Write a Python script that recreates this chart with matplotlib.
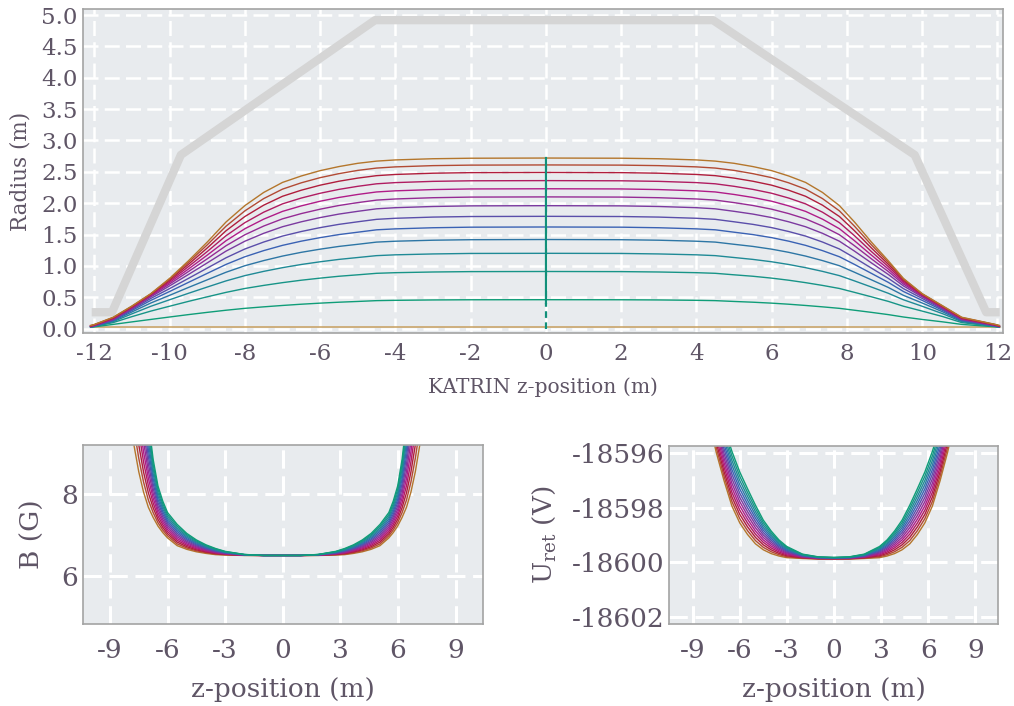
import matplotlib.pyplot as plt
from matplotlib.colors import LinearSegmentedColormap

# ---- data ---------------------------------------------------------------
# |z| knots (m) on the upstream (negative z) and downstream (positive z) side
z_up = [0.0, 2.0, 3.0, 4.0, 4.5, 5.0, 5.5, 6.0, 6.5, 7.0, 7.5, 8.0, 8.5, 9.0, 9.5, 10.0, 10.5, 11.0, 11.5, 12.0, 12.1]
z_down = [0.0, 2.0, 3.0, 4.0, 4.5, 5.0, 5.5, 6.0, 6.45, 6.9, 7.35, 7.8, 8.2, 8.65, 9.1, 9.5, 10.0, 10.55, 11.05, 11.95, 12.05]

# field line radius (m) at each knot, 13 flux lines from inner to outer
radius_rows = [
    [0.460, 0.910, 1.200, 1.420, 1.620, 1.790, 1.960, 2.100, 2.230, 2.360, 2.490, 2.610, 2.720],
    [0.459, 0.908, 1.198, 1.417, 1.617, 1.787, 1.957, 2.097, 2.227, 2.357, 2.487, 2.607, 2.717],
    [0.456, 0.902, 1.190, 1.409, 1.608, 1.778, 1.947, 2.087, 2.217, 2.348, 2.478, 2.599, 2.709],
    [0.450, 0.891, 1.176, 1.393, 1.590, 1.759, 1.928, 2.067, 2.197, 2.328, 2.458, 2.579, 2.690],
    [0.445, 0.881, 1.163, 1.379, 1.575, 1.742, 1.910, 2.049, 2.179, 2.309, 2.439, 2.560, 2.671],
    [0.432, 0.857, 1.133, 1.344, 1.537, 1.703, 1.870, 2.009, 2.139, 2.269, 2.400, 2.523, 2.636],
    [0.420, 0.834, 1.103, 1.310, 1.499, 1.662, 1.826, 1.963, 2.091, 2.220, 2.350, 2.471, 2.584],
    [0.405, 0.804, 1.065, 1.266, 1.450, 1.610, 1.770, 1.904, 2.031, 2.158, 2.287, 2.407, 2.519],
    [0.388, 0.771, 1.022, 1.216, 1.394, 1.548, 1.703, 1.834, 1.957, 2.082, 2.207, 2.325, 2.434],
    [0.368, 0.732, 0.971, 1.156, 1.327, 1.475, 1.624, 1.750, 1.869, 1.989, 2.110, 2.224, 2.331],
    [0.346, 0.688, 0.912, 1.084, 1.243, 1.380, 1.519, 1.635, 1.745, 1.856, 1.968, 2.073, 2.171],
    [0.322, 0.639, 0.844, 1.002, 1.145, 1.269, 1.393, 1.496, 1.592, 1.689, 1.787, 1.877, 1.961],
    [0.292, 0.577, 0.760, 0.898, 1.023, 1.129, 1.235, 1.321, 1.401, 1.481, 1.560, 1.633, 1.700],
    [0.258, 0.506, 0.662, 0.777, 0.880, 0.964, 1.047, 1.112, 1.171, 1.228, 1.285, 1.335, 1.379],
    [0.222, 0.433, 0.562, 0.655, 0.736, 0.800, 0.862, 0.909, 0.949, 0.988, 1.024, 1.055, 1.080],
    [0.184, 0.356, 0.459, 0.530, 0.591, 0.637, 0.680, 0.710, 0.734, 0.756, 0.776, 0.790, 0.800],
    [0.145, 0.278, 0.355, 0.407, 0.449, 0.480, 0.505, 0.520, 0.531, 0.540, 0.547, 0.552, 0.556],
    [0.106, 0.190, 0.235, 0.265, 0.288, 0.305, 0.318, 0.328, 0.336, 0.343, 0.349, 0.355, 0.360],
    [0.066, 0.095, 0.110, 0.121, 0.130, 0.138, 0.145, 0.151, 0.157, 0.163, 0.169, 0.175, 0.180],
    [0.027, 0.032, 0.035, 0.038, 0.041, 0.044, 0.047, 0.050, 0.053, 0.056, 0.059, 0.062, 0.065],
    [0.020, 0.022, 0.024, 0.026, 0.028, 0.030, 0.032, 0.034, 0.036, 0.038, 0.040, 0.045, 0.050],
]

# central beam axis line and analysis plane marker
axis_z = [-12.07, 12.06]
axis_r = [0.02, 0.02]
plane_r = [0.0, 0.40, 2.72]

# vessel wall outline
wall_z = [-12.07, -11.53, -9.70, -4.54, 4.44, 9.80, 11.70, 12.06]
wall_r = [0.26, 0.26, 2.77, 4.92, 4.92, 2.77, 0.26, 0.26]

# magnetic field along each line (G)
zb_up = [0.0, 1.0, 2.0, 3.0, 3.5, 4.0, 4.5, 5.0, 5.5, 6.0, 6.25, 6.5, 6.75, 7.0, 7.25, 7.5, 7.75, 8.0]
zb_down = [0.0, 0.92, 1.84, 2.76, 3.22, 3.68, 4.14, 4.6, 5.06, 5.52, 5.75, 5.98, 6.21, 6.44, 6.67, 6.9, 7.13, 7.36]
b_rows = [
    [6.500] * 13,
    [6.500] * 13,
    [6.525, 6.523, 6.521, 6.519, 6.517, 6.515, 6.513, 6.510, 6.508, 6.506, 6.504, 6.502, 6.500],
    [6.600, 6.593, 6.585, 6.578, 6.570, 6.563, 6.555, 6.548, 6.540, 6.533, 6.525, 6.518, 6.510],
    [6.670, 6.658, 6.645, 6.633, 6.620, 6.608, 6.595, 6.583, 6.570, 6.558, 6.545, 6.533, 6.520],
    [6.760, 6.743, 6.725, 6.708, 6.690, 6.673, 6.655, 6.638, 6.620, 6.603, 6.585, 6.568, 6.550],
    [6.880, 6.856, 6.832, 6.808, 6.783, 6.759, 6.735, 6.711, 6.687, 6.663, 6.638, 6.614, 6.590],
    [7.040, 7.008, 6.975, 6.943, 6.910, 6.878, 6.845, 6.813, 6.780, 6.748, 6.715, 6.683, 6.650],
    [7.260, 7.217, 7.173, 7.130, 7.087, 7.043, 7.000, 6.957, 6.913, 6.870, 6.827, 6.783, 6.740],
    [7.550, 7.498, 7.447, 7.395, 7.343, 7.292, 7.240, 7.188, 7.137, 7.085, 7.033, 6.982, 6.930],
    [7.830, 7.766, 7.702, 7.638, 7.573, 7.509, 7.445, 7.381, 7.317, 7.253, 7.188, 7.124, 7.060],
    [8.200, 8.118, 8.037, 7.955, 7.873, 7.792, 7.710, 7.628, 7.547, 7.465, 7.383, 7.302, 7.220],
    [8.850, 8.732, 8.613, 8.495, 8.377, 8.258, 8.140, 8.022, 7.903, 7.785, 7.667, 7.548, 7.430],
    [9.800, 9.623, 9.447, 9.270, 9.093, 8.917, 8.740, 8.563, 8.387, 8.210, 8.033, 7.857, 7.680],
    [11.000, 10.754, 10.508, 10.263, 10.017, 9.771, 9.525, 9.279, 9.033, 8.788, 8.542, 8.296, 8.050],
    [12.500, 12.171, 11.842, 11.513, 11.183, 10.854, 10.525, 10.196, 9.867, 9.538, 9.208, 8.879, 8.550],
    [14.100, 13.692, 13.283, 12.875, 12.467, 12.058, 11.650, 11.242, 10.833, 10.425, 10.017, 9.608, 9.200],
    [16.000, 15.508, 15.017, 14.525, 14.033, 13.542, 13.050, 12.558, 12.067, 11.575, 11.083, 10.592, 10.100],
]

# retarding potential along each line, as rise above -18600 V
u_floor = -18600.0
zu_up = [0.0, 1.0, 2.0, 3.0, 3.5, 4.0, 4.5, 5.0, 5.5, 6.0, 6.5, 7.0, 7.5, 8.0]
zu_down = [0.0, 0.97, 1.93, 2.9, 3.38, 3.86, 4.34, 4.83, 5.31, 5.79, 6.27, 6.76, 7.24, 7.72]
u_rise_rows = [
    [0.180, 0.175, 0.170, 0.165, 0.160, 0.155, 0.150, 0.145, 0.140, 0.135, 0.130, 0.125, 0.120],
    [0.200, 0.193, 0.187, 0.180, 0.173, 0.167, 0.160, 0.153, 0.147, 0.140, 0.133, 0.127, 0.120],
    [0.300, 0.287, 0.273, 0.260, 0.247, 0.233, 0.220, 0.207, 0.193, 0.180, 0.167, 0.153, 0.140],
    [0.580, 0.546, 0.512, 0.478, 0.443, 0.409, 0.375, 0.341, 0.307, 0.273, 0.238, 0.204, 0.170],
    [0.820, 0.771, 0.722, 0.673, 0.623, 0.574, 0.525, 0.476, 0.427, 0.378, 0.328, 0.279, 0.230],
    [1.150, 1.081, 1.012, 0.943, 0.873, 0.804, 0.735, 0.666, 0.597, 0.528, 0.458, 0.389, 0.320],
    [1.550, 1.459, 1.368, 1.278, 1.187, 1.096, 1.005, 0.914, 0.823, 0.733, 0.642, 0.551, 0.460],
    [2.100, 1.982, 1.863, 1.745, 1.627, 1.508, 1.390, 1.272, 1.153, 1.035, 0.917, 0.798, 0.680],
    [2.700, 2.560, 2.420, 2.280, 2.140, 2.000, 1.860, 1.720, 1.580, 1.440, 1.300, 1.160, 1.020],
    [3.320, 3.164, 3.008, 2.853, 2.697, 2.541, 2.385, 2.229, 2.073, 1.918, 1.762, 1.606, 1.450],
    [4.080, 3.913, 3.745, 3.578, 3.410, 3.243, 3.075, 2.908, 2.740, 2.573, 2.405, 2.238, 2.070],
    [5.000, 4.833, 4.667, 4.500, 4.333, 4.167, 4.000, 3.833, 3.667, 3.500, 3.333, 3.167, 3.000],
    [6.200, 6.021, 5.842, 5.663, 5.483, 5.304, 5.125, 4.946, 4.767, 4.588, 4.408, 4.229, 4.050],
    [7.700, 7.500, 7.300, 7.100, 6.900, 6.700, 6.500, 6.300, 6.100, 5.900, 5.700, 5.500, 5.300],
]

n_lines = 13
line_colors = ['#0f9d78', '#1f8a96', '#3a62b4', '#7a3aa0', '#b01c88', '#b01c3c', '#b4762c']

TEXT = '#5f5566'
BG = '#e8ebee'

plt.rcParams['font.family'] = ['DejaVu Serif Condensed', 'DejaVu Serif']
plt.rcParams['mathtext.fontset'] = 'dejavuserif'
plt.rcParams['axes.unicode_minus'] = False

cmap = LinearSegmentedColormap.from_list('flux', line_colors)
colors = [cmap(k / (n_lines - 1)) for k in range(n_lines)]


def profile(zu, zd, rows, k):
    z = [-v for v in zu[::-1]] + list(zd[1:])
    y = [r[k] for r in rows[::-1]] + [r[k] for r in rows[1:]]
    return z, y


def style(ax, fs, lw):
    ax.set_facecolor(BG)
    ax.grid(True, color='white', lw=lw, linestyle=(0, (6, 2.5)))
    ax.set_axisbelow(True)
    for s in ax.spines.values():
        s.set_color('#a3a3a3')
        s.set_linewidth(1.2)
    ax.tick_params(length=0, labelsize=fs, colors=TEXT)


fig = plt.figure(figsize=(10.14, 7.06), dpi=100)

# ---- top: flux tube radius ------------------------------------------------
ax = fig.add_axes([0.0819, 0.528, 0.907, 0.459])
style(ax, 16.5, 1.8)
ax.plot(wall_z, wall_r, color='#d5d5d5', lw=6.0, solid_capstyle='butt', zorder=2)
ax.plot(axis_z, axis_r, color='#c9a56a', lw=1.2, zorder=3)
for k in range(n_lines):
    z, r = profile(z_up, z_down, radius_rows, k)
    ax.plot(z, r, color=colors[k], lw=1.0, zorder=3)
ax.plot([0, 0], plane_r[1:], color='#11907a', lw=1.6, zorder=4)
ax.plot([0, 0], plane_r[:2], color='#11907a', lw=1.6, ls=(0, (3, 2)), zorder=4)
ax.set_xlim(-12.3, 12.14)
ax.set_ylim(-0.075, 5.095)
ax.set_xticks(range(-12, 13, 2))
ax.set_yticks([i * 0.5 for i in range(11)])
ax.yaxis.set_major_formatter(plt.FormatStrFormatter('%.1f'))
ax.tick_params(axis='x', pad=7)
ax.tick_params(axis='y', pad=4)
ax.set_xlabel('KATRIN z-position (m)', fontsize=14.6, color=TEXT, labelpad=9)
ax.set_ylabel('Radius (m)', fontsize=15.5, color=TEXT, labelpad=7)

# ---- bottom left: magnetic field -------------------------------------------
axb = fig.add_axes([0.0819, 0.116, 0.394, 0.2535])
style(axb, 19, 2.2)
for k in reversed(range(n_lines)):
    z, b = profile(zb_up, zb_down, b_rows, k)
    axb.plot(z, b, color=colors[k], lw=1.0)
axb.set_xlim(-10.4, 10.4)
axb.set_ylim(4.82, 9.2)
axb.set_xticks(range(-9, 10, 3))
axb.set_yticks([6, 8])
axb.tick_params(axis='x', pad=10)
axb.set_xlabel('z-position (m)', fontsize=19, color=TEXT, labelpad=10)
axb.set_ylabel('B (G)', fontsize=19, color=TEXT, labelpad=12)

# ---- bottom right: retarding potential -------------------------------------
axu = fig.add_axes([0.6598, 0.116, 0.3245, 0.2526])
style(axu, 19, 2.2)
for k in reversed(range(n_lines)):
    z, du = profile(zu_up, zu_down, u_rise_rows, k)
    axu.plot(z, [u_floor + d for d in du], color=colors[k], lw=1.0)
axu.set_xlim(-10.5, 10.45)
axu.set_ylim(-18602.27, -18595.72)
axu.set_xticks(range(-9, 10, 3))
axu.set_yticks([-18596, -18598, -18600, -18602])
axu.yaxis.set_major_formatter(plt.FormatStrFormatter('%d'))
axu.tick_params(axis='x', pad=10)
axu.set_xlabel('z-position (m)', fontsize=19, color=TEXT, labelpad=10)
axu.set_ylabel(r'U$_\mathregular{ret}$ (V)', fontsize=19, color=TEXT, labelpad=10)

fig.savefig('out.png', dpi=100)
